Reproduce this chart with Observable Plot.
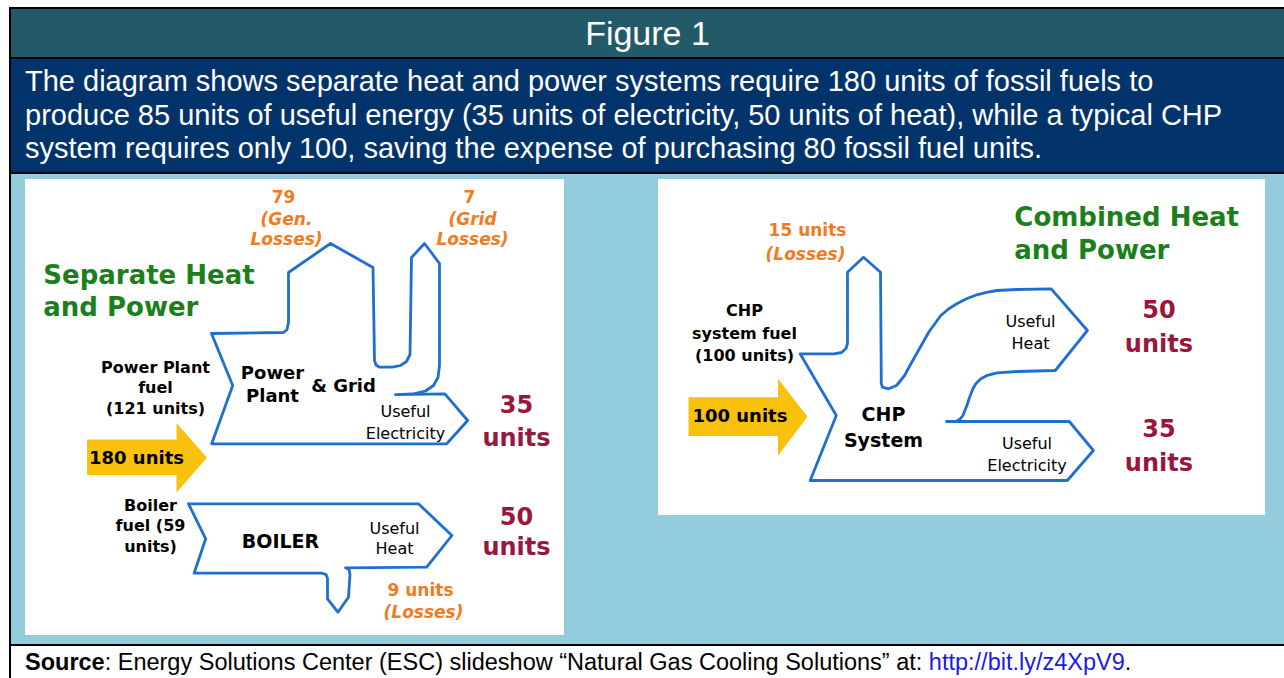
<!DOCTYPE html>
<html>
<head>
<meta charset="utf-8">
<script src="https://cdn.jsdelivr.net/npm/d3@7"></script>
<script src="https://cdn.jsdelivr.net/npm/@observablehq/plot@0.6"></script>
<style>
  html, body { margin: 0; padding: 0; }
  body { width: 1284px; height: 678px; overflow: hidden; background: #fff; position: relative;
         font-family: "Liberation Sans", Arial, sans-serif; }
  .abs { position: absolute; }
  .blk { background: #000; }
  #header { left: 11px; top: 9px; width: 1273px; height: 48px; background: #245a67; color: #fff;
            font-size: 34px; line-height: 48px; text-align: center; }
  #intro { left: 11px; top: 59px; width: 1273px; height: 113px; background: #02336a; }
  #introText { left: 25px; top: 65px; color: #fff; font-size: 29px; line-height: 33.5px; white-space: nowrap; }
  #stage { left: 11px; top: 174px; width: 1273px; height: 470px; background: #93cddd; }
  #footer { left: 25px; top: 648px; font-size: 23.5px; line-height: 28px; white-space: nowrap; color: #000; }
  #footer a { color: #1a1ae6; text-decoration: none; }
  #leftPanel { left: 25px; top: 179px; }
  #rightPanel { left: 658px; top: 179px; }
</style>
</head>
<body>
<div class="abs blk" style="left:9px;top:7px;width:1275px;height:2px"></div>
<div class="abs blk" style="left:9px;top:7px;width:2px;height:671px"></div>
<div id="header" class="abs">Figure 1</div>
<div class="abs blk" style="left:11px;top:57px;width:1273px;height:2px"></div>
<div id="intro" class="abs"></div>
<div id="introText" class="abs">The diagram shows separate heat and power systems require 180 units of fossil fuels to<br>produce 85 units of useful energy (35 units of electricity, 50 units of heat), while a typical CHP<br>system requires only 100, saving the expense of purchasing 80 fossil fuel units.</div>
<div class="abs blk" style="left:11px;top:172px;width:1273px;height:2px"></div>
<div id="stage" class="abs"></div>
<div class="abs blk" style="left:11px;top:644px;width:1273px;height:2px"></div>
<div id="footer" class="abs"><b>Source</b>: Energy Solutions Center (ESC) slideshow “Natural Gas Cooling Solutions” at: <a>http://bit.ly/z4XpV9</a>.</div>
<div id="leftPanel" class="abs"></div>
<div id="rightPanel" class="abs"></div>

<script>
// ---------------- DATA (energy units) ----------------
const separateFlows = ["Power Plant fuel", "Boiler fuel", "Gen. Losses", "Grid Losses", "Useful Electricity", "Useful Heat", "Boiler Losses"];
const separateUnits = [121, 59, 79, 7, 35, 50, 9];
const chpFlows = ["CHP system fuel", "Losses", "Useful Heat", "Useful Electricity"];
const chpUnits = [100, 15, 50, 35];
const systemNames = ["Separate Heat\nand Power", "Combined Heat\nand Power"];
const systemFuel = [180, 100];

// ---------------- LAYOUT (diagram geometry, page pixels) ----------------
const BLUE = "#1f6fd0", ORANGE = "#f47a20", GREEN = "#1b801b", RED = "#99163d", YELLOW = "#f8c10c";

const powerPlantOutline = [
  [211,333],[283,332],[286.5,329],[288,322],[288,272],[330,243],[372.5,267],[374,360],[375.5,364.5],[379,366.7],
  [392,366.7],[400,365],[406,361],[409.5,354],[411,257],[424,243],[439,263],[439,365],[437.5,377],[433,385],
  [425,390.5],[412,393.5],[395,394.2],[444.4,393.3],[467.2,420],[446.2,443.3],[211.2,443.3],[232.2,385],[211,333]
];
const boilerOutline = [
  [188,503.3],[418,503.3],[451.4,535],[426.2,566.7],[345,567.3],[348.5,569],[349.5,574],[348,596.7],[337.4,611.7],
  [327,598.3],[327,578],[325.5,574],[321,572.7],[193.6,572.7],[205.2,538.3],[188,503.3]
];
const chpOutline = [
  [946,421],[1068.8,421],[1092.9,450],[1066.8,480],[809.7,480],[835.8,415],[799.6,353.3],[833.8,353.3],
  [841,352],[845.5,348],[847,343],[847,271.7],[863,256.7],[880,271.7],[880.8,383],[882,386.7],[888,388.3],
  [896,385],[904.1,375],[910,364],[916.1,353.3],[928.2,331.7],[940.3,315],[948,308.5],[956.3,303.3],[966,298.3],
  [976.4,294.3],[986,291.8],[996.5,290],[1016.6,289],[1050.7,288.3],[1086.9,330],[1054.8,370],[1016.6,371],
  [996.5,372.3],[987,374.8],[980.4,378.3],[975.5,383],[972.4,388.3],[969,397],[966.4,405],[962.4,415],
  [959.5,418.7],[956.3,420.5]
];
const leftArrow = [[86.6,439],[176,439],[176,422.5],[206.5,457.3],[176,492],[176,474.5],[86.6,474.5]];
const rightArrow = [[688,396.7],[777.5,396.7],[777.5,378.3],[807,416.2],[777.5,455],[777.5,435.5],[688,435.5]];

// ---------------- helpers ----------------
function label(x, y, text, o = {}) {
  return Plot.text([text], {
    x: () => x, y: () => y, text: d => d,
    fontSize: 16, fontWeight: "bold", fill: "#000", textAnchor: "middle", lineAnchor: "middle",
    ...o
  });
}
function outline(pts) {
  return Plot.line(pts, {x: d => d[0], y: d => d[1], stroke: BLUE, strokeWidth: 2.8,
    strokeLinejoin: "round", strokeLinecap: "round", curve: "linear"});
}
function arrow(pts) {
  return Plot.line(pts, {x: d => d[0], y: d => d[1], fill: YELLOW, stroke: "none", curve: "linear-closed"});
}
function panel(x0, y0, w, h, marks) {
  return Plot.plot({
    width: w, height: h, margin: 0,
    x: {domain: [x0, x0 + w], axis: null},
    y: {domain: [y0, y0 + h], reverse: true, axis: null},
    style: {fontFamily: "DejaVu Sans", background: "#fff", overflow: "visible"},
    marks
  });
}
const orange = {fill: ORANGE, fontSize: 17};
const orangeIt = {fill: ORANGE, fontSize: 17, fontStyle: "italic", lineHeight: 1.18};
const green = {fill: GREEN, fontSize: 26, textAnchor: "start"};
const red = {fill: RED, fontSize: 24};
const plain = {fontWeight: "normal", fontSize: 16};

// ---------------- Separate heat & power ----------------
const left = panel(25, 179, 539, 456, [
  arrow(leftArrow),
  outline(powerPlantOutline),
  outline(boilerOutline),
  label(283, 196.7, `${separateUnits[2]}`, orange),
  label(286, 228.3, "(Gen.\nLosses)", orangeIt),
  label(469, 196.7, `${separateUnits[3]}`, orange),
  label(472, 228.3, "(Grid\nLosses)", orangeIt),
  label(42.8, 289.2, systemNames[0], {...green, lineHeight: 1.22}),
  label(155, 386, `Power Plant\nfuel\n(${separateUnits[0]} units)`, {lineHeight: 1.28}),
  label(272, 383, "Power\nPlant", {fontSize: 18, lineHeight: 1.26}),
  label(343, 385.7, "& Grid", {fontSize: 18}),
  label(405, 420.8, "Useful\nElectricity", {...plain, lineHeight: 1.36}),
  label(516, 418.3, `${separateUnits[4]}\nunits`, {...red, lineHeight: 1.39}),
  label(136, 457.3, `${systemFuel[0]} units`, {fontSize: 18}),
  label(150, 524.3, `Boiler\nfuel (${separateUnits[1]}\nunits)`, {lineHeight: 1.28}),
  label(280, 541.7, "BOILER", {fontSize: 19}),
  label(394, 536.7, "Useful\nHeat", {...plain, lineHeight: 1.25}),
  label(516, 530, `${separateUnits[5]}\nunits`, {...red, lineHeight: 1.27}),
  label(420, 590, `${separateUnits[6]} units`, orange),
  label(423, 610.7, "(Losses)", orangeIt)
]);
document.getElementById("leftPanel").append(left);

// ---------------- Combined heat & power ----------------
const right = panel(658, 179, 607, 336, [
  arrow(rightArrow),
  outline(chpOutline),
  label(807, 230, `${chpUnits[1]} units`, orange),
  label(805, 253.3, "(Losses)", orangeIt),
  label(1013.8, 231.7, systemNames[1], {...green, lineHeight: 1.28}),
  label(744, 331, `CHP\nsystem fuel\n(${chpUnits[0]} units)`, {lineHeight: 1.4}),
  label(739.4, 415.7, `${systemFuel[1]} units`, {fontSize: 18}),
  label(883, 425.3, "CHP\nSystem", {fontSize: 19, lineHeight: 1.37}),
  label(1030, 330.3, "Useful\nHeat", {...plain, lineHeight: 1.42}),
  label(1026.5, 452.5, "Useful\nElectricity", {...plain, lineHeight: 1.35}),
  label(1158.4, 323.8, `${chpUnits[2]}\nunits`, {...red, lineHeight: 1.43}),
  label(1158.4, 442.8, `${chpUnits[3]}\nunits`, {...red, lineHeight: 1.43})
]);
document.getElementById("rightPanel").append(right);
</script>
</body>
</html>
